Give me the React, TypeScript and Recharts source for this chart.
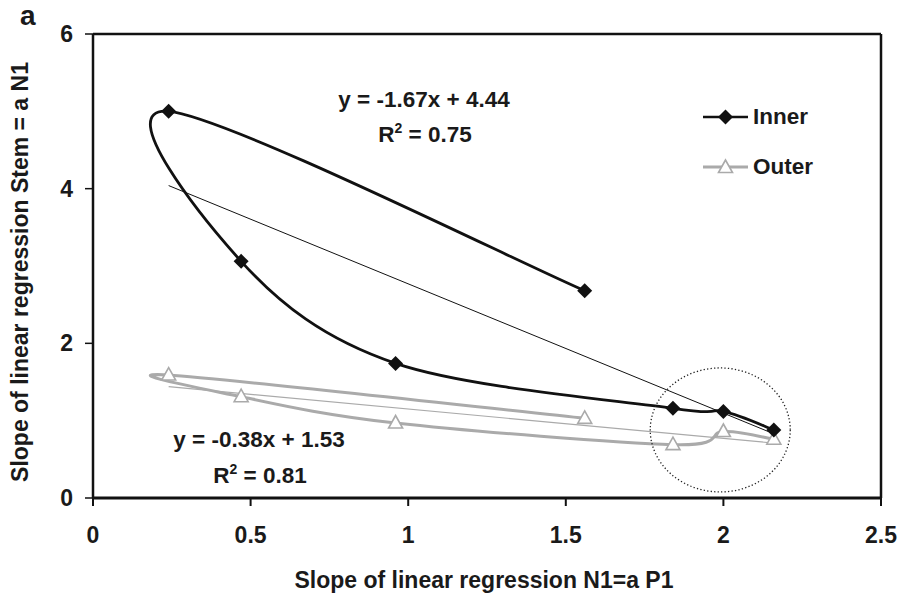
import React from "react";
import { ComposedChart, Line, Scatter, XAxis, YAxis, ReferenceLine, Legend, Customized } from "recharts";

const innerPoints = [
  { x: 1.56, y: 2.68 },
  { x: 0.24, y: 5.0 },
  { x: 0.47, y: 3.06 },
  { x: 0.96, y: 1.74 },
  { x: 1.84, y: 1.16 },
  { x: 2.0, y: 1.12 },
  { x: 2.16, y: 0.88 },
];
const outerPoints = [
  { x: 1.56, y: 1.03 },
  { x: 0.24, y: 1.59 },
  { x: 0.47, y: 1.31 },
  { x: 0.96, y: 0.97 },
  { x: 1.84, y: 0.69 },
  { x: 2.0, y: 0.86 },
  { x: 2.16, y: 0.76 },
];
const innerTrend = [
  { x: 0.24, y: 4.04 },
  { x: 2.16, y: 0.83 },
];
const outerTrend = [
  { x: 0.24, y: 1.44 },
  { x: 2.16, y: 0.71 },
];
const circleCenter = [{ x: 1.99, y: 0.88 }];
const xTicks = [0, 0.5, 1, 1.5, 2, 2.5];
const yTicks = [0, 2, 4, 6];

const FONT = "'Liberation Sans', Arial, sans-serif";
const TXT = "#1a1a1a";
const GREY = "#aaaaaa";

// Catmull-Rom style smoothing (like spreadsheet smoothed lines)
const smoothCurve: any = (context: any) => {
  let pts: number[][] = [];
  return {
    areaStart() {},
    areaEnd() {},
    lineStart() {
      pts = [];
    },
    point(x: number, y: number) {
      pts.push([+x, +y]);
    },
    lineEnd() {
      if (!pts.length) return;
      context.moveTo(pts[0][0], pts[0][1]);
      for (let i = 0; i < pts.length - 1; i++) {
        const p0 = pts[i - 1] || pts[i];
        const p1 = pts[i];
        const p2 = pts[i + 1];
        const p3 = pts[i + 2] || p2;
        const c1x = p1[0] + (p2[0] - p0[0]) / 6;
        const c1y = p1[1] + (p2[1] - p0[1]) / 6;
        const c2x = p2[0] - (p3[0] - p1[0]) / 6;
        const c2y = p2[1] - (p3[1] - p1[1]) / 6;
        context.bezierCurveTo(c1x, c1y, c2x, c2y, p2[0], p2[1]);
      }
    },
  };
};

const Diamond = (props: any) => {
  const { cx, cy, index } = props;
  if (cx == null || cy == null) return <g key={`dm-${index}`} />;
  const r = 7.5;
  return (
    <polygon
      key={`dm-${index}`}
      points={`${cx},${cy - r} ${cx + r},${cy} ${cx},${cy + r} ${cx - r},${cy}`}
      fill="#111"
    />
  );
};

const Triangle = (props: any) => {
  const { cx, cy, index } = props;
  if (cx == null || cy == null) return <g key={`tr-${index}`} />;
  return (
    <polygon
      key={`tr-${index}`}
      points={`${cx},${cy - 7.5} ${cx + 7},${cy + 5} ${cx - 7},${cy + 5}`}
      fill="#fff"
      stroke={GREY}
      strokeWidth={1.6}
    />
  );
};

const Ellipse = (props: any) => {
  const { cx, cy } = props;
  return (
    <ellipse cx={cx} cy={cy} rx={70} ry={62} fill="none" stroke="#222" strokeWidth={1.3} strokeDasharray="1.3 2.2" />
  );
};

const Annotations = () => (
  <g fontFamily={FONT} fontWeight="bold" fill={TXT}>
    <text x={20} y={25} fontSize={28}>a</text>
    <text x={424} y={107} fontSize={22.5} textAnchor="middle">y = -1.67x + 4.44</text>
    <text x={425} y={142} fontSize={22.5} textAnchor="middle">
      R<tspan dy={-9} fontSize={14}>2</tspan><tspan dy={9}> = 0.75</tspan>
    </text>
    <text x={259} y={447} fontSize={22.5} textAnchor="middle">y = -0.38x + 1.53</text>
    <text x={260} y={483} fontSize={22.5} textAnchor="middle">
      R<tspan dy={-9} fontSize={14}>2</tspan><tspan dy={9}> = 0.81</tspan>
    </text>
    <text transform="translate(28,272) rotate(-90)" fontSize={23} textAnchor="middle">
      Slope of linear regression Stem = a N1
    </text>
    <text x={484} y={588} fontSize={23} textAnchor="middle">Slope of linear regression N1=a P1</text>
  </g>
);

const LegendContent = () => (
  <div style={{ fontFamily: FONT, fontWeight: "bold", fontSize: 22.5, color: TXT }}>
    <div style={{ display: "flex", alignItems: "center", height: 28, marginBottom: 22 }}>
      <svg width={47} height={20} style={{ marginRight: 3 }}>
        <line x1={0} y1={10} x2={45} y2={10} stroke="#111" strokeWidth={2.6} />
        <polygon points="22.5,2.5 30,10 22.5,17.5 15,10" fill="#111" />
      </svg>
      <span>Inner</span>
    </div>
    <div style={{ display: "flex", alignItems: "center", height: 28 }}>
      <svg width={47} height={20} style={{ marginRight: 3 }}>
        <line x1={0} y1={10} x2={45} y2={10} stroke={GREY} strokeWidth={3} />
        <polygon points="22.5,3 29.5,15.5 15.5,15.5" fill="#fff" stroke={GREY} strokeWidth={1.6} />
      </svg>
      <span>Outer</span>
    </div>
  </div>
);

export default function App() {
  return (
    <div style={{ position: "absolute", left: 0, top: 0, width: 900, height: 593, background: "#fff" }}>
      <ComposedChart width={900} height={593} margin={{ top: 34, right: 19, bottom: 0, left: 0 }}>
        <XAxis
          type="number"
          dataKey="x"
          domain={[0, 2.5]}
          ticks={xTicks}
          allowDataOverflow
          height={95}
          axisLine={{ stroke: "#111", strokeWidth: 3 }}
          tickLine={{ stroke: "#111", strokeWidth: 2 }}
          tickSize={8}
          tickMargin={21}
          tick={{ fill: TXT, fontSize: 23, fontWeight: "bold", fontFamily: FONT }}
        />
        <YAxis
          type="number"
          dataKey="y"
          domain={[0, 6]}
          ticks={yTicks}
          allowDataOverflow
          width={93}
          axisLine={{ stroke: "#111", strokeWidth: 2.5 }}
          tickLine={{ stroke: "#111", strokeWidth: 1.5 }}
          tickSize={8}
          tickMargin={12}
          tick={{ fill: TXT, fontSize: 23, fontWeight: "bold", fontFamily: FONT }}
        />
        <ReferenceLine y={6} stroke="#111" strokeWidth={2.5} />
        <ReferenceLine x={2.5} stroke="#111" strokeWidth={2.5} />
        <Scatter data={circleCenter} dataKey="y" shape={<Ellipse />} legendType="none" isAnimationActive={false} />
        <Line
          data={outerPoints}
          dataKey="y"
          name="Outer"
          type={smoothCurve}
          stroke={GREY}
          strokeWidth={3}
          dot={Triangle}
          activeDot={false}
          isAnimationActive={false}
        />
        <Line
          data={outerTrend}
          dataKey="y"
          type="linear"
          stroke={GREY}
          strokeWidth={1.2}
          dot={false}
          activeDot={false}
          legendType="none"
          isAnimationActive={false}
        />
        <Line
          data={innerPoints}
          dataKey="y"
          name="Inner"
          type={smoothCurve}
          stroke="#111"
          strokeWidth={2.8}
          dot={Diamond}
          activeDot={false}
          isAnimationActive={false}
        />
        <Line
          data={innerTrend}
          dataKey="y"
          type="linear"
          stroke="#111"
          strokeWidth={1}
          dot={false}
          activeDot={false}
          legendType="none"
          isAnimationActive={false}
        />
        <Legend
          layout="horizontal"
          verticalAlign="middle"
          align="center"
          content={<LegendContent />}
          wrapperStyle={{ left: 703, top: 103, width: 175, height: 80 }}
        />
        <Customized component={<Annotations />} />
      </ComposedChart>
    </div>
  );
}
